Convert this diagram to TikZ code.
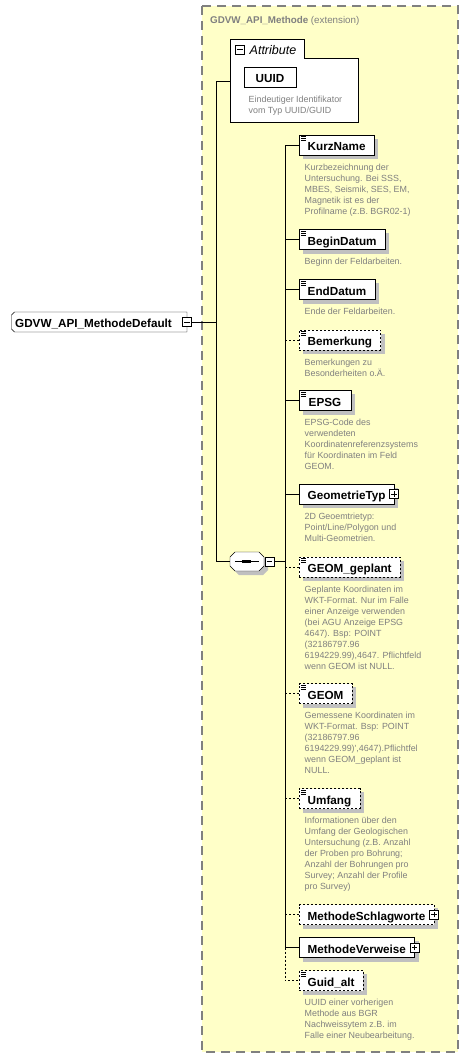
\documentclass[tikz,border=0pt]{standalone}
\usepackage{fontspec}
\setmainfont{Liberation Sans}
\definecolor{descgray}{RGB}{128,128,128}
\definecolor{extyellow}{RGB}{255,255,200}
\definecolor{shadowgray}{RGB}{192,192,192}
\definecolor{extborder}{RGB}{128,128,128}
\newcommand\namefont{\fontsize{11.7}{14}\selectfont\bfseries}
\newcommand\descfont{\fontsize{8.9}{11}\selectfont}
\pgfdeclarelayer{bglayer}
\pgfdeclarelayer{shadowlayer}
\pgfsetlayers{bglayer,shadowlayer,main}
\begin{document}
\begin{tikzpicture}[x=1pt,y=-1pt,line width=1pt,
  elem/.style={draw,fill=white,anchor=west,minimum height=20pt,minimum width=51.5pt,inner xsep=8.5pt,inner ysep=0pt,text height=12pt,text depth=0.6pt,font=\namefont},
  opt/.style={dash pattern=on 2pt off 2pt},
  desc/.style={anchor=north west,inner sep=0pt,align=left,text=descgray,font=\descfont},
  pm/.style={draw,fill=white,minimum size=9pt,inner sep=0pt,line width=0.8pt},
  sign/.style={line width=0.8pt},
  icon/.style={line width=0.7pt}]
\useasboundingbox (0,0) rectangle (469,1060);

% extension container
\begin{pgfonlayer}{bglayer}
\draw[extborder,fill=extyellow,line width=1.3pt,dash pattern=on 9pt off 6pt] (202,6) rectangle (458,1052);
\end{pgfonlayer}
\node[anchor=base west,inner sep=0pt,text=extborder,font=\fontsize{9.8}{12}\selectfont] (title) at (210,23.8) {\textbf{GDVW\_API\_Methode} (extension)};

% root element
\draw[fill=white] (11.5,315) -- (14.5,312) -- (187,312) -- (187,332) -- (14.5,332) -- (11.5,329) -- cycle;
\node[anchor=west,inner sep=0pt,minimum height=20pt,text height=12pt,text depth=0.6pt,font=\namefont] (root) at (15,322) {GDVW\_API\_MethodeDefault};
\node[pm] (rootM) at (187,322) {};
\draw[sign] ([xshift=2pt]rootM.west) -- ([xshift=-2pt]rootM.east);

% attribute group
\draw[fill=white] (230,39) -- (304,39) -- (304,58) -- (358,58) -- (358,122) -- (230,122) -- cycle;
\node[pm] (attrM) at (240,49.5) {};
\draw[sign] ([xshift=2pt]attrM.west) -- ([xshift=-2pt]attrM.east);
\node[anchor=base west,inner sep=0pt,font=\fontsize{12.5}{14}\selectfont\itshape] (attrT) at (249.5,54) {Attribute};
\coordinate (attrIn) at (230,81);
\node[elem] (uuid) at (244,77) {UUID};
\node[desc] (uuidD) at (248.5,94) {\rule{0pt}{8pt}Eindeutiger Identifikator\\vom Typ UUID/GUID};

% sequence compositor
\begin{pgfonlayer}{shadowlayer}
\fill[shadowgray,shift={(4,4)}] (230,557) -- (235,552) -- (259,552) -- (264,557) -- (264,566) -- (259,571) -- (235,571) -- (230,566) -- cycle;
\end{pgfonlayer}
\draw[fill=white] (230,557) -- (235,552) -- (259,552) -- (264,557) -- (264,566) -- (259,571) -- (235,571) -- (230,566) -- cycle;
\node[inner sep=0pt,minimum width=34pt,minimum height=19pt] (seq) at (247,561.5) {};
\draw (235,561.5) -- (259,561.5);
\foreach \xx in {242.4,245.4,248.4} \fill (\xx,560.2) rectangle ++(2.2,2.6);
\node[pm] (seqM) at (269.5,561.5) {};
\draw[sign] ([xshift=2pt]seqM.west) -- ([xshift=-2pt]seqM.east);

% left trunk
\coordinate (trunkL) at (216,0);
\draw (rootM.east) -- (rootM.east -| trunkL);
\draw (attrIn) -- (attrIn -| trunkL) -- (seq.west -| trunkL) -- (seq.west);

% children
\coordinate (trunkR) at (285,0);
\node[elem] (kurz) at (299,145) {KurzName};
\node[elem] (begin) at (299,239.5) {BeginDatum};
\node[elem] (end) at (299,289.3) {EndDatum};
\node[elem,opt] (bem) at (299,340) {Bemerkung};
\node[elem] (epsg) at (299,400.5) {EPSG};
\node[elem] (geotyp) at (299,494) {GeometrieTyp\hspace{2.5pt}};
\node[elem,opt] (geomg) at (299,567) {GEOM\_geplant};
\node[elem,opt] (geom) at (299,693.5) {GEOM};
\node[elem,opt] (umf) at (299,798.5) {Umfang};
\node[elem,opt] (schl) at (299,914.5) {MethodeSchlagworte\hspace{2.5pt}};
\node[elem] (verw) at (299,947.5) {MethodeVerweise\hspace{2.5pt}};
\node[elem,opt] (guid) at (299,980.5) {Guid\_alt};

% shadows of the element boxes
\begin{pgfonlayer}{shadowlayer}
\foreach \n in {uuid,kurz,begin,end,bem,epsg,geotyp,geomg,geom,umf,schl,verw,guid}
  \fill[shadowgray] ([shift={(4pt,-4pt)}]\n.north west) rectangle ([shift={(4pt,-4pt)}]\n.south east);
\end{pgfonlayer}

% plus boxes
\foreach \n in {geotyp,schl,verw}{
  \node[pm] (\n P) at (\n.east) {};
  \draw[sign] ([xshift=2pt]\n P.west) -- ([xshift=-2pt]\n P.east) ([yshift=2pt]\n P.south) -- ([yshift=-2pt]\n P.north);
}

% simple-content icons
\foreach \n in {kurz,begin,end,bem,epsg,geomg,geom,umf,guid}
  \foreach \k in {2pt,4pt,6pt}
    \draw[icon] ([xshift=2pt,yshift=-\k]\n.north west) -- ++(5pt,0pt);

% right trunk connectors
\draw (kurz.west -| trunkR) -- (verw.west -| trunkR);
\draw[opt] (verw.west -| trunkR) -- (guid.west -| trunkR) -- (guid.west);
\foreach \n in {kurz,begin,end,epsg,geotyp,verw} \draw (\n.west -| trunkR) -- (\n.west);
\foreach \n in {bem,geomg,geom,umf,schl} \draw[opt] (\n.west -| trunkR) -- (\n.west);
\draw (seqM.east) -- (seqM.east -| trunkR);

% descriptions
\node[desc] (kurzD) at (304.5,162) {\rule{0pt}{8pt}Kurzbezeichnung der\\Untersuchung. Bei SSS,\\MBES, Seismik, SES, EM,\\Magnetik ist es der\\Profilname (z.B. BGR02-1)};
\node[desc] (beginD) at (304.5,256.5) {\rule{0pt}{8pt}Beginn der Feldarbeiten.};
\node[desc] (endD) at (304.5,306.3) {\rule{0pt}{8pt}Ende der Feldarbeiten.};
\node[desc] (bemD) at (304.5,357) {\rule{0pt}{8pt}Bemerkungen zu\\Besonderheiten o.Ä.};
\node[desc] (epsgD) at (304.5,417.5) {\rule{0pt}{8pt}EPSG-Code des\\verwendeten\\Koordinatenreferenzsystems\\für Koordinaten im Feld\\GEOM.};
\node[desc] (geotypD) at (304.5,511) {\rule{0pt}{8pt}2D Geoemtrietyp:\\Point/Line/Polygon und\\Multi-Geometrien.};
\node[desc] (geomgD) at (304.5,584) {\rule{0pt}{8pt}Geplante Koordinaten im\\WKT-Format. Nur im Falle\\einer Anzeige verwenden\\(bei AGU Anzeige EPSG\\4647). Bsp: POINT\\(32186797.96\\6194229.99),4647. Pflichtfeld\\wenn GEOM ist NULL.};
\node[desc] (geomD) at (304.5,710.5) {\rule{0pt}{8pt}Gemessene Koordinaten im\\WKT-Format. Bsp: POINT\\(32186797.96\\6194229.99)\textquotesingle,4647).Pflichtfel\\wenn GEOM\_geplant ist\\NULL.};
\node[desc] (umfD) at (304.5,815.5) {\rule{0pt}{8pt}Informationen über den\\Umfang der Geologischen\\Untersuchung (z.B. Anzahl\\der Proben pro Bohrung;\\Anzahl der Bohrungen pro\\Survey; Anzahl der Profile\\pro Survey)};
\node[desc] (guidD) at (304.5,997.5) {\rule{0pt}{8pt}UUID einer vorherigen\\Methode aus BGR\\Nachweissytem z.B. im\\Falle einer Neubearbeitung.};
\end{tikzpicture}
\end{document}
